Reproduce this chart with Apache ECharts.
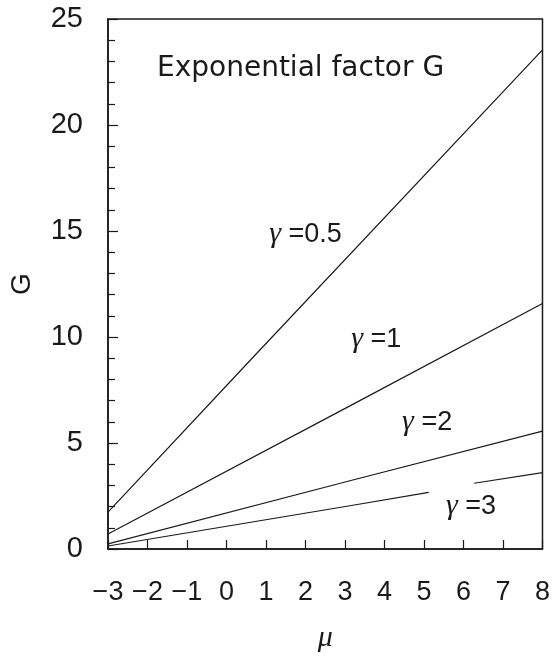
<!DOCTYPE html>
<html lang="en">
<head>
    <meta charset="UTF-8">
    <title>Exponential factor G</title>
    <script src="https://cdn.jsdelivr.net/npm/echarts/dist/echarts.min.js"></script>
    <style>
        body{margin:0;background:#fff;}
    </style>
</head>
<body>
<div id="chart_g" style="width:553px;height:658px"></div>
<script>
    // values (mu, G)
    var muTicks = [-3, -2, -1, 0, 1, 2, 3, 4, 5, 6, 7, 8];
    var gTicks = [0, 5, 10, 15, 20, 25];

    var mu05 = [-3, 0.625, 8];
    var g05 = [1.74, 8.95, 23.54];
    var mu1 = [-3, 3.125, 8];
    var g1 = [0.71, 6.75, 11.58];
    var mu2 = [-3, 3.125, 8];
    var g2 = [0.24, 3.22, 5.56];
    // gamma = 3 is broken where its label sits
    var mu3a = [-3, 3.125, 5.12];
    var g3a = [0.14, 2.04, 2.67];
    var mu3b = [6.27, 8];
    var g3b = [3.1, 3.6];

    var labelMu = [2.0, 3.79, 5.08, 6.19];
    var labelG = [14.83, 9.89, 5.98, 2.02];
    var labelText = ['0.5', '1', '2', '3'];

    function pairs(xs, ys){
        var out = [];
        for(var i=0;i<xs.length;i++){
            out.push([xs[i], ys[i]]);
        }
        return out;
    }

    function lineSeries(name, xs, ys){
        return {
            name: name,
            type: 'line',
            data: pairs(xs, ys),
            symbol: 'none',
            silent: true,
            lineStyle: {color: '#1a1a1a', width: 1.2}
        };
    }

    var labelData = [];
    for(var i=0;i<labelMu.length;i++){
        labelData.push({value: [labelMu[i], labelG[i]], txt: labelText[i]});
    }

    var option = {
        animation: false,
        backgroundColor: '#fff',
        grid: {
            left: 105, right: 8, top: 19, bottom: 108,
            show: true, borderColor: '#1a1a1a', borderWidth: 1.5
        },
        xAxis: {
            type: 'value',
            min: -3, max: 8, interval: 1,
            name: 'μ',
            nameLocation: 'middle',
            nameGap: 74,
            nameTextStyle: {fontFamily: 'Liberation Serif', fontStyle: 'italic', fontSize: 30, color: '#1a1a1a'},
            axisLine: {onZero: false, lineStyle: {color: '#1a1a1a', width: 1.5}},
            axisTick: {inside: true, length: 9, lineStyle: {color: '#1a1a1a', width: 1.2}},
            splitLine: {show: false},
            axisLabel: {
                margin: 30,
                fontFamily: 'Liberation Sans',
                fontSize: 27,
                color: '#1a1a1a',
                formatter: function (v) {
                    return muTicks.indexOf(v) < 0 ? '' : String(v).replace('-', '\u2212');
                }
            }
        },
        yAxis: {
            type: 'value',
            min: 0, max: 25, interval: 5,
            name: 'G',
            nameLocation: 'middle',
            nameGap: 72,
            nameTextStyle: {fontFamily: 'Liberation Sans', fontSize: 28, color: '#1a1a1a'},
            axisLine: {show: true, onZero: false, lineStyle: {color: '#1a1a1a', width: 1.5}},
            axisTick: {inside: true, length: 10, lineStyle: {color: '#1a1a1a', width: 1.2}},
            minorTick: {show: true, splitNumber: 5, length: 7, lineStyle: {color: '#1a1a1a', width: 1.2}},
            splitLine: {show: false},
            axisLabel: {
                margin: 25,
                fontFamily: 'Liberation Sans',
                fontSize: 29,
                color: '#1a1a1a',
                formatter: function (v) {
                    return gTicks.indexOf(v) < 0 ? '' : String(v);
                }
            }
        },
        graphic: [{
            type: 'text',
            left: 157,
            top: 55,
            style: {
                text: 'Exponential factor G',
                font: '28px "DejaVu Sans"',
                fill: '#1a1a1a'
            }
        }],
        series: [
            lineSeries('g05', mu05, g05),
            lineSeries('g1', mu1, g1),
            lineSeries('g2', mu2, g2),
            lineSeries('g3a', mu3a, g3a),
            lineSeries('g3b', mu3b, g3b),
            {
                name: 'labels',
                type: 'scatter',
                symbolSize: 0,
                silent: true,
                itemStyle: {opacity: 1},
                data: labelData,
                label: {
                    show: true,
                    position: 'inside',
                    color: '#1a1a1a',
                    formatter: function (p) {
                        return '{g|γ}{t| =' + p.data.txt + '}';
                    },
                    rich: {
                        g: {fontFamily: 'Liberation Serif', fontStyle: 'italic', fontSize: 30, color: '#1a1a1a'},
                        t: {fontFamily: 'Liberation Sans', fontSize: 27, color: '#1a1a1a'}
                    }
                }
            }
        ]
    };

    var chart_g = echarts.init(document.getElementById('chart_g'));
    chart_g.setOption(option);
</script>
</body>
</html>
